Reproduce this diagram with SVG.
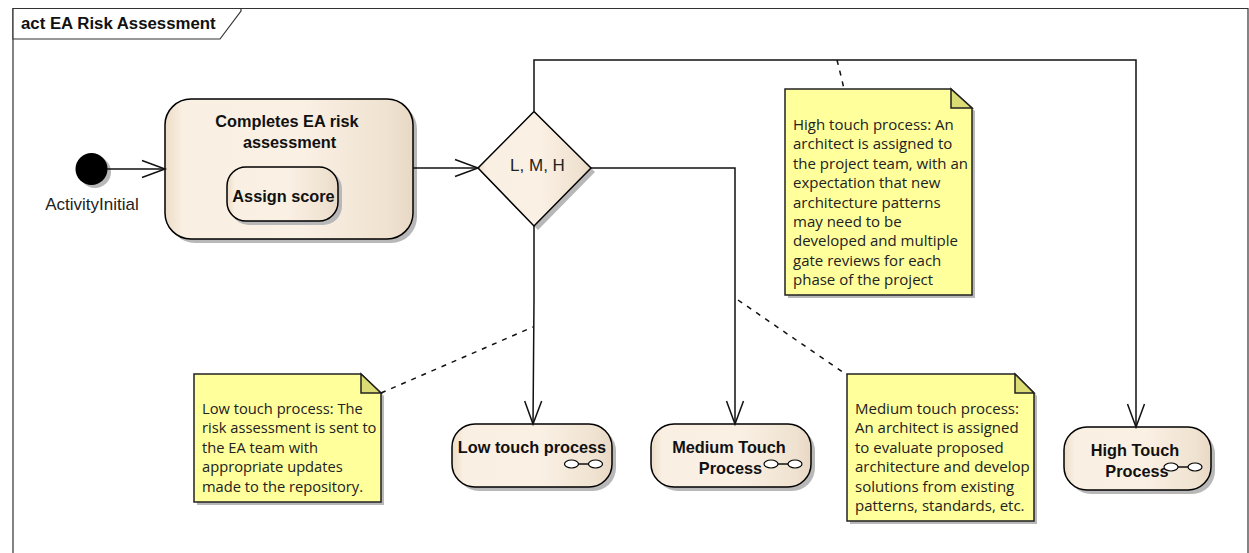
<svg xmlns="http://www.w3.org/2000/svg" width="1249" height="553" viewBox="0 0 1249 553">
<style>
.shadow{fill:#b8b8b8;stroke:none}
.act{fill:url(#g);stroke:#000;stroke-width:1.5}
.note{fill:#ffff9c;stroke:#222;stroke-width:1.5}
.fold{fill:#dcdc74;stroke:#222;stroke-width:1.5}
.b{font:bold 16.300px "Liberation Sans",Arial,sans-serif;fill:#111;text-anchor:middle}
.r{font:17px "Liberation Sans",Arial,sans-serif;fill:#222;text-anchor:middle}
.n{font:15px "Open Sans","Noto Sans",sans-serif;fill:#222}
.c{fill:none;stroke:#111;stroke-width:1.5}
.d{fill:none;stroke:#111;stroke-width:1.500;stroke-dasharray:5 6}
.rake{fill:#fff;stroke:#000;stroke-width:1.200}
</style>
<defs>
<linearGradient id="g" x1="0" x2="1" y1="0" y2="0">
<stop offset="0" stop-color="#ecdcc6"/><stop offset="0.07" stop-color="#f9efe2"/><stop offset="0.55" stop-color="#faf0e4"/><stop offset="0.9" stop-color="#efe2d0"/><stop offset="1" stop-color="#e8d8c4"/>
</linearGradient>
<marker id="a" viewBox="0 0 20 20" refX="18" refY="10" markerWidth="20" markerHeight="20" markerUnits="userSpaceOnUse" orient="auto-start-reverse" overflow="visible">
<path d="M-5 1.500 L18 10 L-5 18.500" fill="none" stroke="#111" stroke-width="1.5"/>
</marker>
</defs>
<rect width="1249" height="553" fill="#fff"/>
<g id="frame">
<path d="M13 553V8.500H1248V553" fill="none" stroke="#333" stroke-width="1.200"/>
<path d="M13 8.500H241V11L220 39H13Z" fill="#fff" stroke="#333" stroke-width="1.200"/>
<text x="21" y="29" style="font:bold 16.800px 'Liberation Sans',Arial,sans-serif;fill:#111">act EA Risk Assessment</text>
</g>
<g id="initial">
<circle cx="95" cy="172" r="16" class="shadow"/>
<circle cx="91.500" cy="169" r="16" fill="#000"/>
<text x="92" y="210" class="r">ActivityInitial</text>
</g>
<g id="completes">
<rect x="169" y="103" width="248" height="140" rx="26" class="shadow"/>
<rect x="165" y="99" width="248" height="140" rx="26" class="act"/>
<text x="287" y="127" class="b">Completes EA risk</text>
<text x="289.500" y="148" class="b">assessment</text>
<g id="assign">
<rect x="230" y="170" width="112" height="55" rx="19" class="shadow"/>
<rect x="227" y="167" width="111" height="54" rx="19" class="act"/>
<text x="283.500" y="202" class="b">Assign score</text>
</g>
</g>
<g id="decision">
<path d="M538 115L595 172L538 230L481 172Z" class="shadow"/>
<path d="M534 111.500L591 168L534 226L478 168Z" class="act"/>
<text x="537.500" y="171" class="r">L, M, H</text>
</g>
<g id="low">
<rect x="456" y="428" width="160" height="63" rx="23" class="shadow"/>
<rect x="452" y="424" width="160" height="63" rx="23" class="act"/>
<text x="532" y="453" class="b">Low touch process</text>
<g transform="translate(564.500 464)"><path d="M14 0H24" class="c"/><ellipse cx="7" cy="0" rx="7" ry="4" class="rake"/><ellipse cx="31" cy="0" rx="7" ry="4" class="rake"/></g>
</g>
<g id="medium">
<rect x="655" y="428" width="160" height="63" rx="23" class="shadow"/>
<rect x="651" y="424" width="160" height="63" rx="23" class="act"/>
<text x="729" y="453" class="b">Medium Touch</text>
<text x="730.500" y="474" class="b">Process</text>
<g transform="translate(764 464)"><path d="M14 0H24" class="c"/><ellipse cx="7" cy="0" rx="7" ry="4" class="rake"/><ellipse cx="31" cy="0" rx="7" ry="4" class="rake"/></g>
</g>
<g id="high">
<rect x="1068" y="431" width="147" height="63" rx="23" class="shadow"/>
<rect x="1064" y="427" width="147" height="63" rx="23" class="act"/>
<text x="1135" y="456" class="b">High Touch</text>
<text x="1137" y="477" class="b">Process</text>
<g transform="translate(1164 467)"><path d="M14 0H24" class="c"/><ellipse cx="7" cy="0" rx="7" ry="4" class="rake"/><ellipse cx="31" cy="0" rx="7" ry="4" class="rake"/></g>
</g>
<g id="note-high">
<path d="M788 92H954L975 111V298H788Z" class="shadow"/>
<path d="M785 89H951L972 108V295H785Z" class="note"/>
<path d="M951 89V108H972Z" class="fold"/>
<text class="n"><tspan x="793" y="130">High touch process: An</tspan><tspan x="793" y="149.400">architect is assigned to</tspan><tspan x="793" y="168.800">the project team, with an</tspan><tspan x="793" y="188.200">expectation that new</tspan><tspan x="793" y="207.600">architecture patterns</tspan><tspan x="793" y="227">may need to be</tspan><tspan x="793" y="246.400">developed and multiple</tspan><tspan x="793" y="265.800">gate reviews for each</tspan><tspan x="793" y="285.200">phase of the project</tspan></text>
</g>
<g id="note-low">
<path d="M197 377H364L384 396V505H197Z" class="shadow"/>
<path d="M194 374H361L381 393V502H194Z" class="note"/>
<path d="M361 374V393H381Z" class="fold"/>
<text class="n" style="font-size:14.700px"><tspan x="202" y="414">Low touch process: The</tspan><tspan x="202" y="433.400">risk assessment is sent to</tspan><tspan x="202" y="452.800">the EA team with</tspan><tspan x="202" y="472.200">appropriate updates</tspan><tspan x="202" y="491.600">made to the repository.</tspan></text>
</g>
<g id="note-medium">
<path d="M850 377H1018L1037 396V524H850Z" class="shadow"/>
<path d="M847 374H1015L1034 393V521H847Z" class="note"/>
<path d="M1015 374V393H1034Z" class="fold"/>
<text class="n"><tspan x="855" y="414">Medium touch process:</tspan><tspan x="855" y="433.400">An architect is assigned</tspan><tspan x="855" y="452.800">to evaluate proposed</tspan><tspan x="855" y="472.200">architecture and develop</tspan><tspan x="855" y="491.600">solutions from existing</tspan><tspan x="855" y="511">patterns, standards, etc.</tspan></text>
</g>
<g id="connectors">
<path class="c" d="M107 169H165" marker-end="url(#a)"/>
<path class="c" d="M413 168H478" marker-end="url(#a)"/>
<path class="c" d="M534 111V60H1136V427" marker-end="url(#a)"/>
<path class="c" d="M591 168H735V424" marker-end="url(#a)"/>
<path class="c" d="M534 226V300L533 424" marker-end="url(#a)"/>
<path class="d" d="M381 393L533 327"/>
<path class="d" d="M738 300L847 375"/>
<path class="d" d="M837 60L841 76L844 89"/>
</g>
</svg>
